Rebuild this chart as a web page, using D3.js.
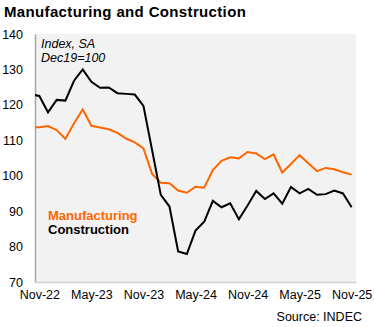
<!DOCTYPE html>
<html>
<head>
<meta charset="utf-8">
<script src="https://cdn.jsdelivr.net/npm/d3@7"></script>
<style>
  body { margin: 0; background: #fff; }
  svg { font-family: "Liberation Sans", Arial, sans-serif; }
</style>
</head>
<body>
<div id="vis"></div>
<script>
const FRAME_WIDTH = 374;
const FRAME_HEIGHT = 327;

// month labels, Oct-22 sits just left of the plot and gets clipped
const months = ["Oct-22", "Nov-22", "Dec-22", "Jan-23", "Feb-23", "Mar-23", "Apr-23", "May-23",
  "Jun-23", "Jul-23", "Aug-23", "Sep-23", "Oct-23", "Nov-23", "Dec-23", "Jan-24", "Feb-24",
  "Mar-24", "Apr-24", "May-24", "Jun-24", "Jul-24", "Aug-24", "Sep-24", "Oct-24", "Nov-24",
  "Dec-24", "Jan-25", "Feb-25", "Mar-25", "Apr-25", "May-25", "Jun-25", "Jul-25", "Aug-25",
  "Sep-25", "Oct-25", "Nov-25"];

const manufacturing = [113.6, 113.7, 114.0, 112.9, 110.4, 114.8, 118.7, 114.1, 113.6, 113.1,
  112.1, 110.5, 109.4, 107.7, 100.5, 98.0, 97.9, 95.8, 95.2, 96.9, 96.6, 101.6, 104.2, 105.2,
  104.9, 106.7, 106.3, 104.7, 106.0, 100.9, 103.3, 105.8, 103.5, 101.3, 102.2, 101.8, 101.0, 100.3];

const construction = [123.0, 122.5, 117.9, 121.4, 121.2, 126.8, 130.0, 126.5, 124.8, 124.9,
  123.3, 123.1, 122.9, 119.7, 107.2, 94.6, 91.3, 78.6, 77.9, 84.5, 87.0, 92.9, 91.1, 92.2,
  87.7, 91.6, 95.7, 93.4, 95.0, 92.1, 96.8, 95.0, 96.3, 94.6, 94.8, 95.8, 95.0, 91.1];

const xTickLabels = ["Nov-22", "May-23", "Nov-23", "May-24", "Nov-24", "May-25", "Nov-25"];
const yTicks = [70, 80, 90, 100, 110, 120, 130, 140];

const MARGINS = {left: 35, right: 18, top: 34, bottom: 45};
const VIS_WIDTH = FRAME_WIDTH - MARGINS.left - MARGINS.right;
const VIS_HEIGHT = FRAME_HEIGHT - MARGINS.top - MARGINS.bottom;

const svg = d3.select("#vis")
  .append("svg")
  .attr("width", FRAME_WIDTH)
  .attr("height", FRAME_HEIGHT);

// index 0 = Oct-22, Nov-22 is the first full slot
const X_SCALE = d3.scaleLinear()
  .domain([0.5, months.length - 0.5])
  .range([MARGINS.left, MARGINS.left + VIS_WIDTH]);

const Y_SCALE = d3.scaleLinear()
  .domain([70, 140])
  .range([MARGINS.top + VIS_HEIGHT, MARGINS.top]);

// title
svg.append("text")
  .attr("x", 4)
  .attr("y", 17)
  .attr("font-size", 15)
  .attr("font-weight", "bold")
  .attr("letter-spacing", 0.35)
  .text("Manufacturing and Construction");

// plot background
svg.append("rect")
  .attr("x", MARGINS.left)
  .attr("y", MARGINS.top)
  .attr("width", VIS_WIDTH)
  .attr("height", VIS_HEIGHT)
  .attr("fill", "#f2f2f2");

svg.append("clipPath")
  .attr("id", "clip")
  .append("rect")
  .attr("x", MARGINS.left)
  .attr("y", MARGINS.top)
  .attr("width", VIS_WIDTH)
  .attr("height", VIS_HEIGHT);

// y axis
const yAxis = svg.append("g")
  .attr("transform", "translate(" + MARGINS.left + ",0)")
  .call(d3.axisLeft(Y_SCALE).tickValues(yTicks).tickSize(0).tickPadding(12));
yAxis.select(".domain").attr("stroke", "#a6a6a6").attr("stroke-width", 1.5);
yAxis.selectAll("text").attr("font-size", 12.5).attr("fill", "#000")
  .attr("font-family", "Liberation Sans, Arial, sans-serif");

// x axis
const xAxis = svg.append("g")
  .attr("transform", "translate(0," + (MARGINS.top + VIS_HEIGHT) + ")")
  .call(d3.axisBottom(X_SCALE)
    .tickValues(xTickLabels.map((m) => months.indexOf(m)))
    .tickFormat((i) => months[i])
    .tickSize(0).tickPadding(8));
xAxis.select(".domain").attr("stroke", "#d0d0d0").attr("stroke-width", 1.5);
xAxis.selectAll("text").attr("font-size", 12.5).attr("fill", "#000")
  .attr("font-family", "Liberation Sans, Arial, sans-serif");

// lines
const line = d3.line()
  .x((d, i) => X_SCALE(i))
  .y((d) => Y_SCALE(d));

svg.append("path")
  .datum(manufacturing)
  .attr("clip-path", "url(#clip)")
  .attr("fill", "none")
  .attr("stroke", "#ff6600")
  .attr("stroke-width", 2)
  .attr("d", line);

svg.append("path")
  .datum(construction)
  .attr("clip-path", "url(#clip)")
  .attr("fill", "none")
  .attr("stroke", "#000")
  .attr("stroke-width", 2)
  .attr("d", line);

// note
svg.append("text")
  .attr("x", 41)
  .attr("y", 47.5)
  .attr("font-size", 12.5)
  .attr("font-style", "italic")
  .text("Index, SA");
svg.append("text")
  .attr("x", 41)
  .attr("y", 62)
  .attr("font-size", 12.5)
  .attr("font-style", "italic")
  .text("Dec19=100");

// legend
svg.append("text")
  .attr("x", 48)
  .attr("y", 220)
  .attr("font-size", 13)
  .attr("font-weight", "bold")
  .attr("fill", "#ff6600")
  .text("Manufacturing");
svg.append("text")
  .attr("x", 48)
  .attr("y", 234)
  .attr("font-size", 13)
  .attr("font-weight", "bold")
  .attr("fill", "#000")
  .text("Construction");

// source
svg.append("text")
  .attr("x", 362)
  .attr("y", 321)
  .attr("text-anchor", "end")
  .attr("font-size", 12.5)
  .text("Source: INDEC");
</script>
</body>
</html>
